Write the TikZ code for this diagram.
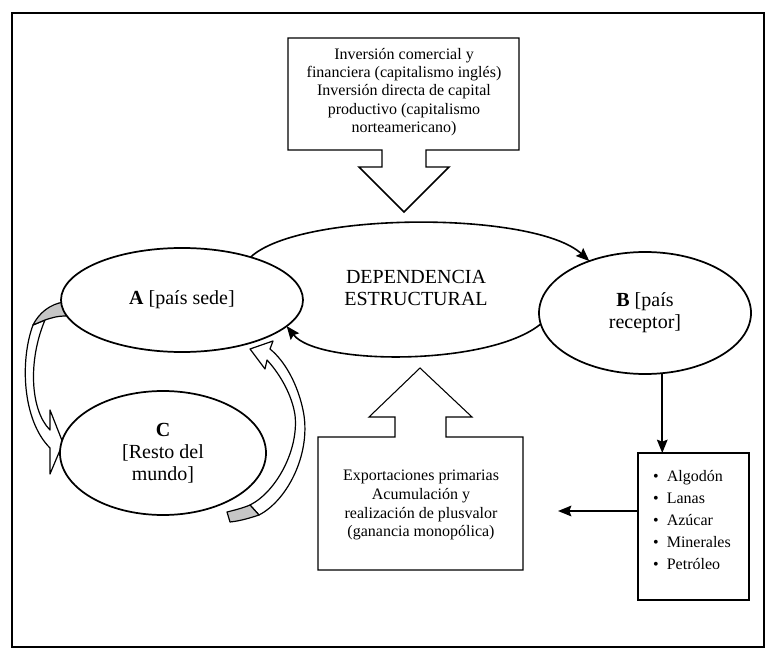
\documentclass[tikz,border=0pt]{standalone}
\usepackage{fontspec}
\setmainfont{Liberation Serif}
\usetikzlibrary{shapes.geometric,arrows.meta}
\begin{document}
\begin{tikzpicture}[x=0.75pt,y=-0.75pt,
  ell/.style={ellipse,draw,line width=1.3pt,fill=white,inner sep=0pt,outer sep=0pt,align=center,font=\fontsize{15}{16.5}\selectfont},
  conn/.style={line width=1.2pt,-{Stealth[length=10pt,width=8pt,inset=1.5pt]}},
  callout/.style={draw,line width=1.1pt,fill=white,line join=miter},
  blockarrow/.style={draw,line width=0.9pt,fill=white,line join=round},
  twist/.style={draw,line width=0.9pt,fill=gray!45,line join=round},
  boxtext/.style={align=center,font=\fontsize{12}{13.7}\selectfont,inner sep=0pt},
  listbox/.style={draw,line width=1.1pt,inner sep=0pt,outer sep=0pt,minimum width=83.25pt,minimum height=110.25pt}
]
\useasboundingbox (0,0) rectangle (766,648);
% outer frame
\draw[line width=1.5pt] (12,13) rectangle (764,647);

% top callout (down arrow)
\path[callout] (288,38) -- (519,38) -- (519,150) -- (426,150) -- (426,167) -- (449,167)
  -- (404,212) -- (359,167) -- (382,167) -- (382,150) -- (288,150) -- cycle;
\node[boxtext] (T) at (404,92) {Inversión comercial y\\financiera (capitalismo inglés)\\Inversión directa de capital\\productivo (capitalismo\\norteamericano)};

% bottom callout (up arrow)
\path[callout,line width=0.8pt] (318,570) -- (523,570) -- (523,437) -- (446,437) -- (446,417) -- (472,417)
  -- (420,368) -- (369,417) -- (395,417) -- (395,437) -- (318,437) -- cycle;
\node[boxtext,font=\fontsize{12}{14.2}\selectfont] (E) at (421,505) {Exportaciones primarias\\Acumulación y\\realización de plusvalor\\(ganancia monopólica)};

% curved block arrow A -> C (left)
\path[blockarrow] (33,325) .. controls (20,360) and (22,420) .. (50,448)
  -- (50,474) -- (63,443) -- (50,410) -- (50,430)
  .. controls (30,410) and (28,360) .. (45,320) -- cycle;
\path[twist] (64,302) .. controls (50,304) and (39,313) .. (33,325) -- (45,320)
  .. controls (51,318) and (57,316) .. (66,316) -- cycle;

% curved block arrow C -> A (right)
\path[blockarrow] (259,515) .. controls (288,500) and (312,452) .. (303,410)
  .. controls (298,386) and (286,362) .. (270,349) -- (273,341) -- (250,349) -- (265,369) -- (267,360)
  .. controls (280,374) and (292,395) .. (295,415) .. controls (299,450) and (276,492) .. (250,505) -- cycle;
\path[twist] (227,512) .. controls (235,510) and (243,508) .. (250,505) -- (259,515)
  .. controls (250,518) and (240,521) .. (230,522) -- cycle;

% ellipses
\node[ell,minimum width=181.5pt,minimum height=78pt] (A) at (182,300) {\textbf{A} {[}país sede{]}};
\node[ell,minimum width=159pt,minimum height=91.5pt] (B) at (645,313) {\textbf{B} {[}país\\receptor{]}};
\node[ell,minimum width=154.5pt,minimum height=93pt] (C) at (163,453) {\textbf{C}\\{[}Resto del\\mundo{]}};
\node[align=center,font=\fontsize{15}{16.5}\selectfont,inner sep=0pt] (D) at (416,288) {DEPENDENCIA\\ESTRUCTURAL};

% arcs of the dependency cycle
\draw[conn] (A.32) .. controls (300,211) and (535,211) .. (B.137);
\draw[conn] (B.186) .. controls (490,366) and (318,366) .. (A.-14);

% list box
\node[listbox] (L) at (693.5,526.5) {};
\node[align=left,font=\fontsize{12}{16.5}\selectfont,inner sep=0pt] (Lt) at (692,520)
  {•\hspace{6pt}Algodón\\•\hspace{6pt}Lanas\\•\hspace{6pt}Azúcar\\•\hspace{6pt}Minerales\\•\hspace{6pt}Petróleo};
\coordinate (lt) at (558,511);
\draw[conn] (B.-74) -- (B.-74 |- L.north);
\draw[conn] (L.west |- lt) -- (lt);
\end{tikzpicture}
\end{document}
